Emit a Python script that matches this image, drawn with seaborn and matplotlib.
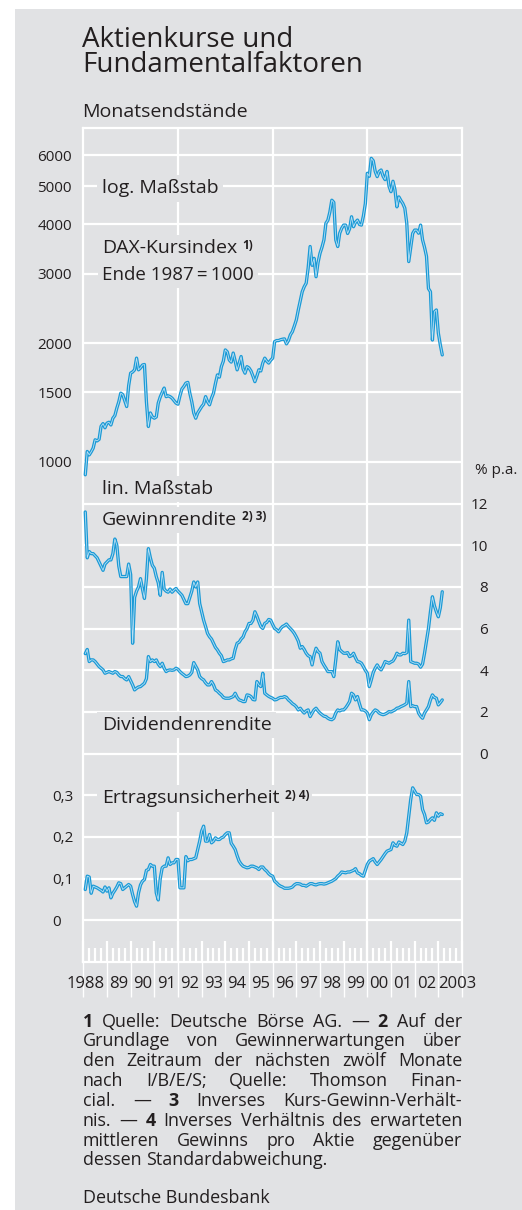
import matplotlib
matplotlib.use("Agg")
import matplotlib.pyplot as plt
from matplotlib import font_manager
from matplotlib.patches import Rectangle
from matplotlib.ticker import FixedLocator, NullLocator
import numpy as np
import pandas as pd
import seaborn as sns

# month-end values, Jan 1988 .. Feb 2003
dax = [
    927, 1062, 1041, 1060, 1083, 1137, 1130, 1140, 1230, 1250, 1220, 1253,
    1260, 1240, 1290, 1310, 1368, 1420, 1493, 1480, 1430, 1381, 1560, 1678,
    1690, 1711, 1832, 1711, 1730, 1760, 1765, 1420, 1229, 1330, 1300, 1290,
    1300, 1409, 1460, 1500, 1538, 1463, 1470, 1463, 1450, 1430, 1409, 1400,
    1470, 1530, 1553, 1583, 1590, 1493, 1420, 1330, 1290, 1330, 1354, 1380,
    1400, 1463, 1420, 1395, 1450, 1493, 1580, 1661, 1640, 1743, 1800, 1922,
    1900, 1813, 1790, 1887, 1800, 1711, 1780, 1849, 1720, 1678, 1743, 1730,
    1700, 1650, 1597, 1650, 1711, 1700, 1780, 1832, 1800, 1780, 1810, 1832,
    2017, 2030, 2030, 2040, 2046, 2050, 1991, 2030, 2100, 2138, 2210, 2290,
    2427, 2560, 2701, 2780, 2838, 3100, 3516, 3150, 3282, 2947, 3200, 3378,
    3500, 3655, 4027, 4100, 4300, 4608, 4550, 3655, 3516, 3800, 3910, 3985,
    3985, 3795, 3900, 4183, 3947, 4050, 4103, 4000, 3985, 4200, 4519, 5393,
    5300, 5884, 5800, 5450, 5289, 5450, 5497, 5300, 5197, 5450, 5000, 4843,
    5147, 4900, 4433, 4697, 4600, 4519, 4400, 4027, 3220, 3500, 3795, 3870,
    3870, 3800, 3985, 3655, 3500, 3320, 2750, 2700, 2037, 2400, 2427, 2121,
    1980, 1867,
]

gewinnrendite = [
    11.6, 9.4, 9.7, 9.6, 9.6, 9.5, 9.4, 9.2, 9.0, 8.8, 9.1, 9.2,
    9.3, 9.3, 9.6, 10.3, 10.0, 9.0, 8.5, 8.5, 8.5, 8.5, 9.1, 8.6,
    5.3, 7.5, 7.8, 8.0, 8.4, 7.9, 7.45, 8.4, 9.84, 9.4, 9.04, 8.9,
    8.5, 8.2, 7.6, 8.7, 7.9, 7.8, 7.75, 7.9, 7.75, 7.85, 7.93, 7.8,
    7.7, 7.6, 7.4, 7.2, 7.2, 7.5, 7.8, 8.24, 8.0, 8.24, 7.21, 6.8,
    6.41, 6.1, 5.77, 5.61, 5.5, 5.3, 5.1, 4.98, 4.82, 4.7, 4.42, 4.45,
    4.5, 4.5, 4.55, 4.58, 5.0, 5.3, 5.35, 5.5, 5.6, 5.85, 6.0, 6.25,
    6.25, 6.4, 6.81, 6.6, 6.34, 6.1, 6.01, 6.25, 6.3, 6.44, 6.41, 6.2,
    6.01, 5.95, 5.85, 6.0, 6.1, 6.15, 6.22, 6.1, 6.0, 5.9, 5.77, 5.6,
    5.4, 5.06, 5.14, 5.0, 4.82, 4.7, 4.66, 4.26, 4.74, 5.06, 4.9, 4.82,
    4.42, 4.25, 4.1, 3.94, 3.94, 3.94, 3.7, 4.5, 5.37, 5.0, 4.9, 4.82,
    4.82, 4.85, 4.66, 4.7, 4.82, 4.6, 4.42, 4.4, 4.34, 4.18, 4.0, 3.86,
    3.22, 3.54, 3.9, 4.1, 4.26, 4.1, 4.02, 4.2, 4.42, 4.38, 4.34, 4.4,
    4.45, 4.6, 4.82, 4.74, 4.74, 4.82, 4.8, 4.85, 6.41, 4.42, 4.38, 4.34,
    4.34, 4.3, 4.15, 4.3, 4.82, 5.4, 6.01, 6.81, 7.53, 7.1, 6.81, 6.57,
    7.0, 7.77,
]

dividendenrendite = [
    4.8, 5.0, 4.42, 4.5, 4.5, 4.42, 4.3, 4.18, 4.1, 4.02, 3.86, 3.9,
    3.94, 3.9, 3.86, 3.94, 3.9, 3.78, 3.7, 3.7, 3.6, 3.54, 3.7, 3.5,
    3.3, 3.06, 3.14, 3.2, 3.22, 3.3, 3.38, 3.6, 4.66, 4.42, 4.5, 4.42,
    4.5, 4.3, 4.18, 4.34, 4.1, 3.94, 4.0, 4.02, 4.0, 4.02, 4.1, 4.05,
    3.94, 3.85, 3.78, 3.7, 3.72, 3.78, 3.9, 4.37, 4.2, 4.02, 3.7, 3.6,
    3.54, 3.4, 3.3, 3.3, 3.46, 3.3, 3.06, 3.0, 2.9, 2.82, 2.7, 2.66,
    2.66, 2.66, 2.7, 2.74, 2.9, 2.7, 2.58, 2.55, 2.5, 2.5, 2.82, 2.8,
    2.74, 2.6, 2.58, 3.46, 3.3, 3.22, 3.86, 2.9, 2.82, 2.75, 2.7, 2.66,
    2.58, 2.6, 2.66, 2.7, 2.7, 2.74, 2.7, 2.58, 2.5, 2.4, 2.34, 2.25,
    2.1, 2.18, 2.05, 1.95, 2.05, 2.1, 1.78, 1.95, 2.1, 2.18, 2.05, 1.95,
    1.87, 1.8, 1.78, 1.7, 1.65, 1.63, 1.7, 1.95, 2.1, 2.05, 2.1, 2.1,
    2.2, 2.34, 2.5, 2.9, 2.82, 2.58, 2.74, 2.4, 2.1, 2.1, 2.05, 1.95,
    1.63, 1.87, 2.0, 2.1, 2.05, 1.95, 1.9, 1.87, 1.9, 1.95, 2.02, 2.0,
    2.05, 2.1, 2.18, 2.2, 2.26, 2.3, 2.35, 2.42, 3.46, 2.26, 2.3, 2.26,
    2.26, 1.95, 1.8, 1.7, 1.95, 2.1, 2.26, 2.58, 2.82, 2.7, 2.66, 2.34,
    2.45, 2.58,
]

ertragsunsicherheit = [
    0.074, 0.106, 0.104, 0.065, 0.082, 0.08, 0.078, 0.075, 0.072, 0.068, 0.08, 0.07,
    0.078, 0.054, 0.065, 0.072, 0.08, 0.09, 0.088, 0.074, 0.078, 0.082, 0.086, 0.082,
    0.062, 0.045, 0.034, 0.066, 0.085, 0.094, 0.098, 0.12, 0.122, 0.134, 0.13, 0.13,
    0.066, 0.049, 0.1, 0.126, 0.13, 0.13, 0.15, 0.134, 0.138, 0.138, 0.146, 0.146,
    0.078, 0.078, 0.078, 0.153, 0.143, 0.146, 0.146, 0.148, 0.15, 0.17, 0.19, 0.214,
    0.226, 0.19, 0.19, 0.206, 0.186, 0.19, 0.198, 0.194, 0.194, 0.198, 0.2, 0.206,
    0.21, 0.21, 0.185, 0.178, 0.17, 0.155, 0.142, 0.135, 0.13, 0.128, 0.126, 0.127,
    0.13, 0.13, 0.128, 0.126, 0.122, 0.128, 0.128, 0.122, 0.118, 0.112, 0.108, 0.106,
    0.094, 0.09, 0.085, 0.082, 0.08, 0.077, 0.077, 0.077, 0.078, 0.08, 0.085, 0.088,
    0.088, 0.087, 0.084, 0.084, 0.082, 0.085, 0.088, 0.088, 0.086, 0.085, 0.087, 0.088,
    0.088, 0.087, 0.088, 0.09, 0.092, 0.094, 0.097, 0.1, 0.106, 0.11, 0.116, 0.115,
    0.114, 0.116, 0.116, 0.118, 0.12, 0.124, 0.114, 0.112, 0.108, 0.106, 0.12, 0.134,
    0.142, 0.145, 0.148, 0.14, 0.134, 0.14, 0.146, 0.153, 0.16, 0.166, 0.168, 0.17,
    0.186, 0.18, 0.178, 0.188, 0.185, 0.182, 0.19, 0.21, 0.25, 0.29, 0.318, 0.31,
    0.302, 0.302, 0.298, 0.266, 0.254, 0.234, 0.236, 0.242, 0.246, 0.24, 0.258, 0.25,
    0.256, 0.254,
]

year_labels = ["1988", "89", "90", "91", "92", "93", "94", "95", "96", "97",
               "98", "99", "00", "01", "02", "2003"]
year_label_pos = [1988.1] + [y + 0.5 for y in range(1989, 2003)] + [2003.82]

dax_ticks = [1000, 1500, 2000, 3000, 4000, 5000, 6000]
pct_ticks = [0, 2, 4, 6, 8, 10, 12]
unc_ticks = [0, 0.1, 0.2, 0.3]
unc_labels = ["0", "0,1", "0,2", "0,3"]

footnote_lines = [
    "**1** Quelle: Deutsche Börse AG. — **2** Auf der",
    "Grundlage von Gewinnerwartungen über",
    "den Zeitraum der nächsten zwölf Monate",
    "nach I/B/E/S; Quelle: Thomson Finan-",
    "cial. — **3** Inverses Kurs-Gewinn-Verhält-",
    "nis. — **4** Inverses Verhältnis des erwarteten",
    "mittleren Gewinns pro Aktie gegenüber",
    "dessen Standardabweichung.",
]

W, H = 522, 1210
BG = "#e1e2e4"
BLUE = "#1b9ad6"
INNER = "#b9e0f4"
TEXT = "#231f20"
LABEL_SIZE = 14
TICK_SIZE = 11


def fx(px):
    return px / W


def fy(py):
    return 1 - py / H


sns.set_theme(style="dark", rc={"axes.facecolor": BG, "figure.facecolor": "white"})
plt.rcParams["font.family"] = ["Open Sans", "DejaVu Sans"]
names = {f.name for f in font_manager.fontManager.ttflist}
narrow = "Liberation Sans Narrow" if "Liberation Sans Narrow" in names else "Open Sans"

months = pd.period_range("1988-01", "2003-02", freq="M")
t = np.asarray(months.year + months.month / 12.0, dtype=float)

fig = plt.figure(figsize=(W / 100, H / 100), dpi=100)
fig.patches.append(Rectangle((fx(15), 0), 1, fy(9), transform=fig.transFigure,
                             facecolor=BG, edgecolor="none", zorder=-1))

L, R, T, B = 83.3, 462.0, 128.0, 962.0
ax = fig.add_axes([fx(L), fy(B), (R - L) / W, (B - T) / H])
ax_dax = ax.twinx()
ax_unc = ax.twinx()
for a in (ax, ax_dax, ax_unc):
    a.grid(False)
ax.set_facecolor(BG)


def draw_series(axis, values):
    sns.lineplot(x=t, y=values, ax=axis, color=BLUE, linewidth=2.4,
                 estimator=None, legend=False, zorder=5)
    sns.lineplot(x=t, y=values, ax=axis, color=INNER, linewidth=0.6,
                 estimator=None, legend=False, zorder=6)


ax_dax.set_yscale("log")
draw_series(ax_dax, dax)
draw_series(ax, gewinnrendite)
draw_series(ax, dividendenrendite)
draw_series(ax_unc, ertragsunsicherheit)

# scales: the three y axes share one grid of 41.7 px steps
ax.set_xlim(1988, 2004)
ax.set_ylim(-10, 30.03)
ax_dax.set_ylim(53.86, 7025)
ax_unc.set_ylim(-0.1, 1.9016)
for a in (ax, ax_dax, ax_unc):
    a.set_xlabel("")
    a.set_ylabel("")

# grid lines
for yr in (1992, 1996, 2000):
    ax.axvline(yr, color="white", lw=1.6, zorder=1)
for v in pct_ticks:
    ax.axhline(v, color="white", lw=1.6, zorder=1)
for v in dax_ticks:
    ax_dax.axhline(v, color="white", lw=1.6, zorder=1)
for v in unc_ticks:
    ax_unc.axhline(v, color="white", lw=1.6, zorder=1)

for s in ax.spines.values():
    s.set_visible(True)
    s.set_color("white")
    s.set_linewidth(1.6)
for a in (ax_dax, ax_unc):
    for s in a.spines.values():
        s.set_visible(False)

# x ticks: years and quarters, pointing up into the plot
ax.xaxis.set_major_locator(FixedLocator(list(range(1988, 2005))))
ax.xaxis.set_minor_locator(FixedLocator([y + q for y in range(1988, 2004) for q in (0.25, 0.5, 0.75)]))
ax.tick_params(axis="x", which="major", bottom=True, direction="in", length=15,
               width=1.6, color="white", labelbottom=False)
ax.tick_params(axis="x", which="minor", bottom=True, direction="in", length=10,
               width=1.6, color="white")
sec = ax.secondary_xaxis("bottom")
sec.set_xticks(list(range(1988, 2005)))
sec.tick_params(axis="x", which="major", bottom=True, direction="out", length=25,
                width=1.0, color="white", labelbottom=False)
sec.spines["bottom"].set_visible(False)

xlab_tr = matplotlib.transforms.blended_transform_factory(ax.transData, fig.transFigure)
for pos, lab in zip(year_label_pos, year_labels):
    ax.text(pos, fy(988), lab, transform=xlab_tr, ha="center", va="baseline",
            fontsize=12, family=[narrow, "DejaVu Sans"], color=TEXT)

# y ticks
ax.yaxis.tick_right()
ax.set_yticks(pct_ticks)
ax.set_yticklabels([str(v) for v in pct_ticks])
ax.tick_params(axis="y", which="both", right=True, left=False, length=0,
               pad=18.7, labelsize=TICK_SIZE, labelcolor=TEXT)
for lbl in ax.get_yticklabels():
    lbl.set_horizontalalignment("right")

ax_dax.yaxis.tick_left()
ax_dax.yaxis.set_major_locator(FixedLocator(dax_ticks))
ax_dax.yaxis.set_minor_locator(NullLocator())
ax_dax.set_yticklabels([str(v) for v in dax_ticks])
ax_dax.tick_params(axis="y", which="both", left=True, right=False, length=0,
                   pad=8.1, labelsize=TICK_SIZE, labelcolor=TEXT)

ax_unc.yaxis.tick_left()
ax_unc.set_yticks(unc_ticks)
ax_unc.set_yticklabels(unc_labels)
ax_unc.tick_params(axis="y", which="both", left=True, right=False, length=0,
                   pad=22.5, labelsize=TICK_SIZE, labelcolor=TEXT)
for lbl in ax_unc.get_yticklabels():
    lbl.set_horizontalalignment("left")

fig.text(fx(475), fy(474), "% p.a.", fontsize=TICK_SIZE, color=TEXT, va="baseline")

# labels inside the plot
box = dict(boxstyle="square,pad=0.22", fc=BG, ec="none")


def label(axis, x_px, y_px, s, sup=None, size=LABEL_SIZE):
    txt = axis.text(fx(x_px), fy(y_px), s, transform=fig.transFigure, fontsize=size,
                    color=TEXT, va="baseline", ha="left", zorder=3, bbox=box)
    if sup:
        axis.annotate(sup, xy=(1, 1), xycoords=txt, xytext=(4, 0.5),
                      textcoords="offset points", fontsize=8.5, fontweight="bold",
                      color=TEXT, va="top", ha="left", zorder=3, bbox=box)
    return txt


label(ax_dax, 101.7, 193.3, "log. Maßstab")
label(ax_dax, 101.7, 253.3, "DAX-Kursindex", sup="1)")
label(ax_dax, 101.7, 280.0, "Ende 1987\u2009=\u20091000", size=13.5)
label(ax, 101.7, 494.0, "lin. Maßstab")
label(ax, 101.7, 525.0, "Gewinnrendite", sup="2) 3)")
label(ax, 101.7, 730.0, "Dividendenrendite")
label(ax_unc, 101.7, 803.3, "Ertragsunsicherheit", sup="2) 4)")

# title block
fig.text(fx(82), fy(46.7), "Aktienkurse und", fontsize=20, color=TEXT, va="baseline")
fig.text(fx(82), fy(72.0), "Fundamentalfaktoren", fontsize=20, color=TEXT, va="baseline")
fig.text(fx(82), fy(116.7), "Monatsendstände", fontsize=14, color=TEXT, va="baseline")

# justified footnotes
FN_LEFT, FN_RIGHT, FN_TOP, FN_STEP, FN_SIZE = 83.0, 462.0, 1026.7, 19.8, 12.9
renderer = fig.canvas.get_renderer()
probe_a = fig.text(0, 0, "a a", fontsize=FN_SIZE)
probe_b = fig.text(0, 0, "aa", fontsize=FN_SIZE)
space_w = (probe_a.get_window_extent(renderer).width
           - probe_b.get_window_extent(renderer).width)
probe_a.remove()
probe_b.remove()

for i, line in enumerate(footnote_lines):
    y = fy(FN_TOP + i * FN_STEP)
    arts = []
    for w in line.split(" "):
        bold = w.startswith("**")
        arts.append(fig.text(0, y, w.replace("**", ""), fontsize=FN_SIZE,
                             fontweight="bold" if bold else "normal",
                             color=TEXT, va="baseline"))
    widths = [a.get_window_extent(renderer).width for a in arts]
    if i == len(footnote_lines) - 1:
        gap = space_w
    else:
        gap = max((FN_RIGHT - FN_LEFT - sum(widths)) / (len(arts) - 1), 0.6 * space_w)
    x = FN_LEFT
    for a, wd in zip(arts, widths):
        a.set_x(fx(x))
        x += wd + gap

fig.text(fx(FN_LEFT), fy(1203.3), "Deutsche Bundesbank", fontsize=FN_SIZE,
         color=TEXT, va="baseline")

fig.savefig("out.png", dpi=100)
